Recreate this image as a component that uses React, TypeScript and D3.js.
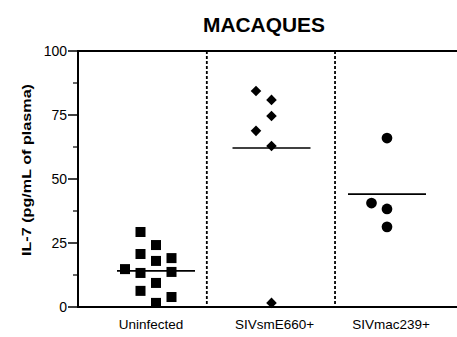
import * as d3 from 'd3';

const groups = ['Uninfected', 'SIVsmE660+', 'SIVmac239+'];
const yTicks = [0, 25, 50, 75, 100];
const yMinorTicks = [12.5, 37.5, 62.5, 87.5];

// value, column offset (jitter) within the group
const uninfected = [
  { v: 29.3, o: -1 }, { v: 24.2, o: 0 }, { v: 20.7, o: -1 }, { v: 18.0, o: 0 },
  { v: 19.1, o: 1 }, { v: 14.8, o: -2 }, { v: 13.3, o: -1 }, { v: 13.7, o: 1 },
  { v: 9.4, o: 0 }, { v: 6.3, o: -1 }, { v: 3.9, o: 1 }, { v: 1.6, o: 0 },
];
const smE660 = [
  { v: 84.4, o: -1 }, { v: 80.9, o: 0 }, { v: 74.6, o: 0 },
  { v: 68.8, o: -1 }, { v: 62.9, o: 0 }, { v: 1.6, o: 0 },
];
const mac239 = [
  { v: 66.0, o: 0 }, { v: 40.6, o: -1 }, { v: 38.3, o: 0 }, { v: 31.3, o: 0 },
];
const medians = [14.1, 62.1, 44.1];
const dividers = [0.44, 1.55];

export default function App() {
  const width = 457;
  const height = 337;
  const left = 78;
  const top = 51;
  const bottom = 307;

  const y = d3.scaleLinear().domain([0, 100]).range([bottom, top]);
  const x = d3.scaleLinear().domain([0, 1]).range([156, 271.5]);
  const jitter = 15.5;

  const sq = 10;
  const diamond = d3.symbol().type(d3.symbolSquare).size(56)();
  const circle = d3.symbol().type(d3.symbolCircle).size(90)();

  return (
    <div style={{ position: 'fixed', left: 0, top: 0 }}>
      <svg width={width} height={height} style={{ display: 'block', background: '#fff' }}
        fontFamily="'Liberation Sans', Arial, sans-serif">
        <text x={264} y={32} textAnchor="middle" fontSize={19.5} fontWeight="bold"
          textLength={122} lengthAdjust="spacingAndGlyphs">MACAQUES</text>

        {/* frame */}
        <line x1={left} x2={width} y1={top} y2={top} stroke="#000" strokeWidth={2} />
        <line x1={left} x2={width} y1={bottom} y2={bottom} stroke="#000" strokeWidth={2} />
        <line x1={left} x2={left} y1={top - 1} y2={bottom + 1} stroke="#000" strokeWidth={2} />

        {dividers.map((d, i) => (
          <line key={i} x1={x(d)} x2={x(d)} y1={top} y2={bottom} stroke="#000"
            strokeWidth={1.8} strokeDasharray="3,2" />
        ))}

        {/* y axis */}
        {yTicks.map((t) => (
          <g key={t}>
            <line x1={left - 10} x2={left} y1={y(t)} y2={y(t)} stroke="#000" strokeWidth={1.5} />
            <text x={left - 11} y={y(t) + 5} textAnchor="end" fontSize={14}>{t}</text>
          </g>
        ))}
        {yMinorTicks.map((t) => (
          <line key={t} x1={left - 5} x2={left} y1={y(t)} y2={y(t)} stroke="#000" strokeWidth={1.2} />
        ))}
        <text transform={`translate(31, 170) rotate(-90)`} textAnchor="middle"
          fontSize={13.5} fontWeight="bold" textLength={172} lengthAdjust="spacingAndGlyphs">
          IL-7 (pg/mL of plasma)
        </text>

        {/* x labels */}
        {groups.map((g, i) => (
          <text key={g} x={x(i) + [-5, 3, 4][i]} y={329} textAnchor="middle" fontSize={13.5}>{g}</text>
        ))}

        {/* points */}
        {uninfected.map((p, i) => (
          <rect key={i} x={x(0) + p.o * jitter - sq / 2} y={y(p.v) - sq / 2} width={sq} height={sq} fill="#000" />
        ))}
        {smE660.map((p, i) => (
          <path key={i} d={diamond!} transform={`translate(${x(1) + p.o * jitter},${y(p.v)}) rotate(45)`} fill="#000" />
        ))}
        {mac239.map((p, i) => (
          <path key={i} d={circle!} transform={`translate(${x(2) + p.o * jitter},${y(p.v)})`} fill="#000" />
        ))}

        {/* medians */}
        {medians.map((m, i) => (
          <line key={i} x1={x(i) - 39} x2={x(i) + 39} y1={y(m)} y2={y(m)} stroke="#000" strokeWidth={1.6} />
        ))}
      </svg>
    </div>
  );
}
